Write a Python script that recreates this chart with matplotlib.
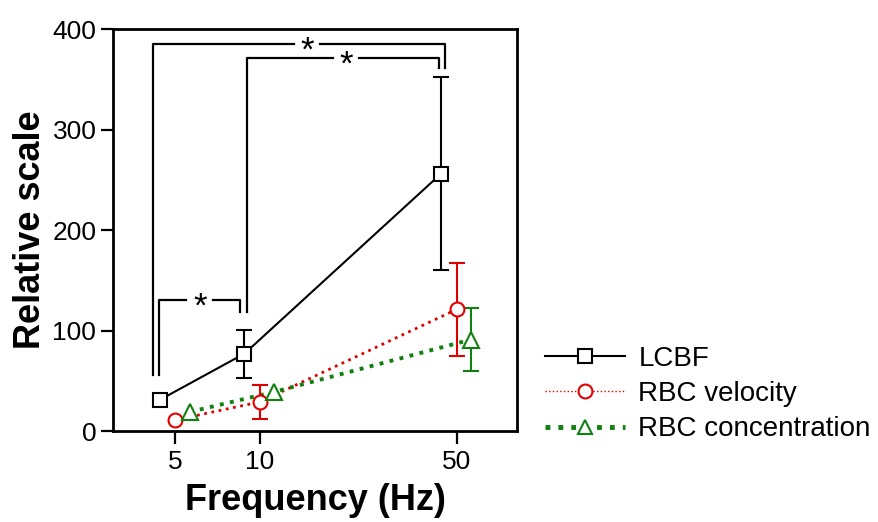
import numpy as np
import matplotlib
matplotlib.use("Agg")
import matplotlib.pyplot as plt

plt.rcParams['font.family'] = ['Liberation Sans', 'DejaVu Sans']

# data
freq = np.array([5, 10, 50])
freq_ticks = [5, 10, 50]
lcbf_mean = [31, 77, 256]
lcbf_sd = [np.nan, 24, 96]
vel_mean = [11, 29, 121]
vel_sd = [np.nan, 17, 46]
conc_mean = [19, 39, 91]
conc_sd = [np.nan, np.nan, 31]

# significance brackets: (x left, x right, y left leg bottom, y right leg bottom, y top, star x)
brackets = [
    (4.16, 45.3, 55.6, 361.6, 385.4, 14.7),
    (9.01, 43.2, 118.4, 361.6, 371.5, 20.2),
    (4.36, 8.49, 55.6, 118.4, 130.0, 6.1),
]
gap = 1.115  # half-width of the gap round each star, as a factor on the log axis

fig = plt.figure(figsize=(8.79, 5.22), dpi=100)
ax = fig.add_axes([0.1286, 0.1743, 0.4596, 0.7701])

ax.errorbar(freq * 0.88, lcbf_mean, yerr=lcbf_sd, fmt='-s', color='black',
            mfc='white', mec='black', ms=10, mew=1.5, lw=1.5, elinewidth=1.5,
            capsize=6, capthick=1.5, label='LCBF', zorder=3)
ax.errorbar(freq, vel_mean, yerr=vel_sd, fmt='o', color='#e00000',
            mfc='white', ms=10, mew=1.5, elinewidth=1.5,
            capsize=6, capthick=1.5, zorder=3)
ax.plot(freq, vel_mean, ':', color='#e00000', lw=2.0, zorder=2)
ax.errorbar(freq * 1.125, conc_mean, yerr=conc_sd, fmt='^', color='#108010',
            mfc='white', ms=11, mew=1.5, elinewidth=1.5,
            capsize=6, capthick=1.5, zorder=3)
ax.plot(freq * 1.125, conc_mean, ':', color='#108010', lw=2.8, zorder=2)

# legend proxies
h1, = ax.plot([], [], '-s', color='black', mfc='white', ms=10, mew=1.5, lw=1.5)
h2, = ax.plot([], [], ':', marker='o', color='#e00000', mfc='white', ms=10, mew=1.5, lw=1.0)
h3, = ax.plot([], [], ':', marker='^', color='#108010', mfc='white', ms=10, mew=1.5, lw=3.5)
fig.legend([h1, h2, h3], ['LCBF', 'RBC velocity', 'RBC concentration'],
           loc='upper left', bbox_to_anchor=(0.592, 0.385), frameon=False,
           fontsize=20, handlelength=2.85, handletextpad=0.5, labelspacing=0.33)

# significance brackets, with a gap in the top line for the star
for xl, xr, yl, yr, yt, xs in brackets:
    ax.plot([xs * gap, xr, xr], [yt, yt, yr], color='black', lw=1.6, zorder=1)
    ax.plot([xl, xl, xs / gap], [yl, yt, yt], color='black', lw=1.6, zorder=1)
    ax.annotate('*', (xs, yt), xytext=(0, -5), textcoords='offset points',
                ha='center', va='center', fontsize=25)

ax.set_xscale('log')
ax.set_xlim(3, 82)
ax.set_ylim(0, 400)
ax.set_xticks(freq_ticks)
ax.set_xticklabels([str(f) for f in freq_ticks])
ax.xaxis.set_minor_locator(matplotlib.ticker.NullLocator())
ax.set_yticks([0, 100, 200, 300, 400])

for s in ax.spines.values():
    s.set_linewidth(2)
ax.tick_params(axis='both', direction='out', length=9, width=1.6, labelsize=19)
ax.tick_params(axis='x', pad=5)
ax.tick_params(axis='y', pad=3)

ax.set_xlabel('Frequency (Hz)', fontsize=26, fontweight='bold', labelpad=6)
ax.set_ylabel('Relative scale', fontsize=26, fontweight='bold', labelpad=3)

fig.savefig('out.png', dpi=100)
